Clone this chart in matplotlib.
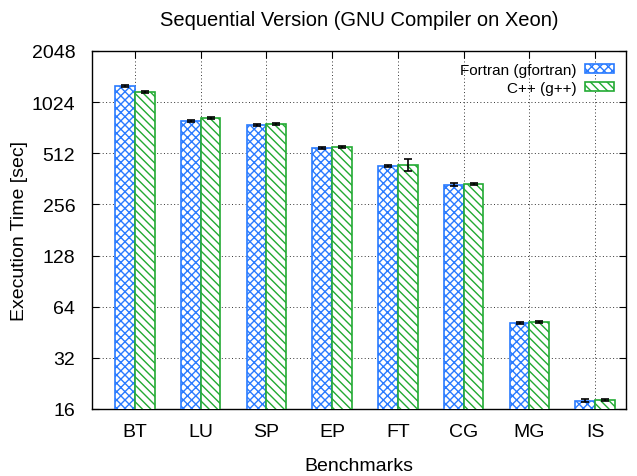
import matplotlib
matplotlib.use("Agg")
import matplotlib.pyplot as plt
import numpy as np
from matplotlib.ticker import FixedLocator, FixedFormatter, NullLocator

plt.rcParams['font.family'] = ['Liberation Sans', 'DejaVu Sans']
plt.rcParams['hatch.linewidth'] = 1.0

benchmarks = ["BT", "LU", "SP", "EP", "FT", "CG", "MG", "IS"]
fortran = [1275, 794, 750, 549, 431, 334, 51.3, 17.9]
fortran_err = [25, 14, 12, 8, 6, 7, 0.8, 0.3]
cpp = [1175, 827, 762, 557, 437, 338, 51.9, 18.1]
cpp_err = [22, 14, 12, 8, 35, 6, 0.8, 0.3]
yticks = [16, 32, 64, 128, 256, 512, 1024, 2048]

blue = "#2a7bff"
green = "#22aa33"

fig = plt.figure(figsize=(6.37, 4.77), dpi=100)
ax = fig.add_axes([0.1444, 0.1405, 0.8383, 0.7505])

x = np.arange(len(benchmarks))
w = 0.3
ax.bar(x - w/2, fortran, w, facecolor="white", edgecolor=blue, hatch="xxxx",
       linewidth=1.2, label="Fortran (gfortran)", zorder=3)
ax.bar(x + w/2, cpp, w, facecolor="white", edgecolor=green, hatch="\\\\\\\\",
       linewidth=1.2, label="C++ (g++)", zorder=3)
ax.errorbar(x - w/2, fortran, yerr=fortran_err, fmt="none", ecolor="black",
            elinewidth=1.2, capsize=3, capthick=1.2, zorder=4)
ax.errorbar(x + w/2, cpp, yerr=cpp_err, fmt="none", ecolor="black",
            elinewidth=1.2, capsize=3, capthick=1.2, zorder=4)

ax.set_yscale("log", base=2)
ax.set_ylim(16, 2048)
ax.yaxis.set_major_locator(FixedLocator(yticks))
ax.yaxis.set_major_formatter(FixedFormatter([str(t) for t in yticks]))
ax.yaxis.set_minor_locator(NullLocator())
ax.set_xlim(-0.655, 7.47)
ax.set_xticks(x)
ax.set_xticklabels(benchmarks)

ax.grid(True, which="major", linestyle=(0, (1, 2.5)), color="#333333", linewidth=0.7, zorder=0)
ax.set_axisbelow(True)
ax.tick_params(direction="in", top=True, right=True, length=5, labelsize=14)
ax.tick_params(axis="y", pad=12)
ax.tick_params(axis="x", pad=10)
for s in ax.spines.values():
    s.set_linewidth(1.0)

ax.set_xlabel("Benchmarks", fontsize=14, labelpad=12)
ax.set_ylabel("Execution Time [sec]", fontsize=14, labelpad=3)
ax.set_title("Sequential Version (GNU Compiler on Xeon)", fontsize=14.5, pad=19)

leg = ax.legend(loc="upper right", markerfirst=False, frameon=False, fontsize=11,
                handlelength=1.9, handleheight=0.55, handletextpad=0.55,
                borderaxespad=0.4, labelspacing=0.25)
for t in leg.get_texts():
    t.set_ha("right")

fig.savefig("out.png", dpi=100)
